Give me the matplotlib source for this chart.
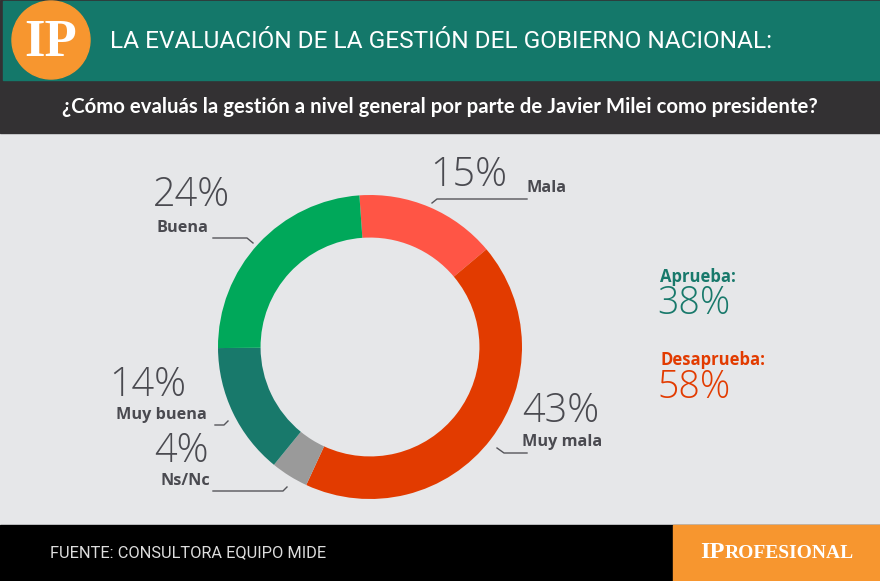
import matplotlib.pyplot as plt
from matplotlib import font_manager
from matplotlib.patches import Rectangle, Circle

# datos de la encuesta
categorias = ['Mala', 'Muy mala', 'Ns/Nc', 'Muy buena', 'Buena']
valores = [15, 43, 4, 14, 24]
colores = ['#FF5545', '#E23B00', '#9A9A9A', '#18796B', '#00A85A']
aprueba = 38
desaprueba = 58

titulo = 'LA EVALUACIÓN DE LA GESTIÓN DEL GOBIERNO NACIONAL:'
pregunta = '¿Cómo evaluás la gestión a nivel general por parte de Javier Milei como presidente?'
fuente = 'FUENTE: CONSULTORA EQUIPO MIDE'

instaladas = {f.name for f in font_manager.fontManager.ttflist}
narrow = 'Liberation Sans Narrow' if 'Liberation Sans Narrow' in instaladas else 'Roboto'
serif = 'Liberation Serif' if 'Liberation Serif' in instaladas else 'DejaVu Serif'
# peso fino para los porcentajes si existe
livianas = [f for f in font_manager.fontManager.ttflist
            if f.name == 'Open Sans' and f.weight in (300, 'light')]
peso_num = 'light' if livianas else 'normal'

W, H = 880, 581
fig = plt.figure(figsize=(W / 100, H / 100), dpi=100)
fig.patch.set_facecolor('#E6E7E9')

# fondo en coordenadas de pixel
bg = fig.add_axes([0, 0, 1, 1])
bg.set_xlim(0, W)
bg.set_ylim(H, 0)
bg.axis('off')

bg.add_patch(Rectangle((0, 0), W, 133, color='#333133'))
bg.add_patch(Rectangle((3, 1), W - 3, 79, color='#14786A'))
bg.add_patch(Rectangle((0, 525), W, 56, color='#000000'))
bg.add_patch(Rectangle((673, 525), W - 673, 56, color='#F7962F'))
bg.add_patch(Circle((51, 40), 39, color='#F7962F'))
bg.text(51, 43, 'IP', color='white', fontsize=38, fontweight='bold',
        family=serif, ha='center', va='center')

bg.text(110, 41, titulo, color='white', fontsize=17.6, family=narrow,
        ha='left', va='center')
bg.text(440, 107, pregunta, color='white', fontsize=14.7, fontweight='bold',
        family='Lato', ha='center', va='center')
bg.text(50, 553, fuente, color='#DDDDDD', fontsize=11.8,
        family=narrow, ha='left', va='center')
bg.text(700, 552, 'IP', color='white', fontsize=17.5, fontweight='bold',
        family=serif, ha='left', va='center')
bg.text(725, 553, 'ROFESIONAL', color='white', fontsize=14, fontweight='bold',
        family=serif, ha='left', va='center')

# donut
cx, cy, r = 370, 347, 152
ax = fig.add_axes([(cx - r) / W, (H - cy - r) / H, 2 * r / W, 2 * r / H])
ax.pie(valores, colors=colores, startangle=94, counterclock=False,
       wedgeprops=dict(width=0.28, linewidth=0))
ax.set_xlim(-1, 1)
ax.set_ylim(-1, 1)
ax.axis('off')

gris = '#4A4A50'
numfont = dict(color=gris, fontsize=28.5, family='Open Sans', fontweight=peso_num)
labfont = dict(color=gris, fontsize=11.7, family='Open Sans', fontweight='bold')

# posiciones: % , nombre, linea guia
etiquetas = {
    'Buena': ((153, 195), (157, 228), [(213, 238), (247, 238), (253, 243)]),
    'Mala': ((430, 176), (527, 188), [(432, 203), (437, 199), (527, 199)]),
    'Muy mala': ((522, 411), (522, 442), [(497, 448), (504, 453), (527, 453)]),
    'Muy buena': ((109, 386), (116, 415), [(215, 425), (224, 425), (228, 421)]),
    'Ns/Nc': ((154, 452), (161, 481), [(213, 491), (283, 491), (287, 487)]),
}
for cat, val in zip(categorias, valores):
    pn, pl, linea = etiquetas[cat]
    bg.text(pn[0], pn[1], f'{val}%', ha='left', va='center', **numfont)
    bg.text(pl[0], pl[1], cat, ha='left', va='center', **labfont)
    xs, ys = zip(*linea)
    bg.plot(xs, ys, color='#55555A', lw=1)

bg.text(660, 277, 'Aprueba:', color='#18796B', fontsize=12, fontweight='bold',
        family='Open Sans', ha='left', va='center')
bg.text(657, 304, f'{aprueba}%', color='#18796B', fontsize=27, family='Open Sans',
        fontweight=peso_num, ha='left', va='center')
bg.text(660, 360, 'Desaprueba:', color='#E23B00', fontsize=12, fontweight='bold',
        family='Open Sans', ha='left', va='center')
bg.text(657, 388, f'{desaprueba}%', color='#E23B00', fontsize=27, family='Open Sans',
        fontweight=peso_num, ha='left', va='center')

fig.savefig('out.png', dpi=100, facecolor=fig.get_facecolor())
